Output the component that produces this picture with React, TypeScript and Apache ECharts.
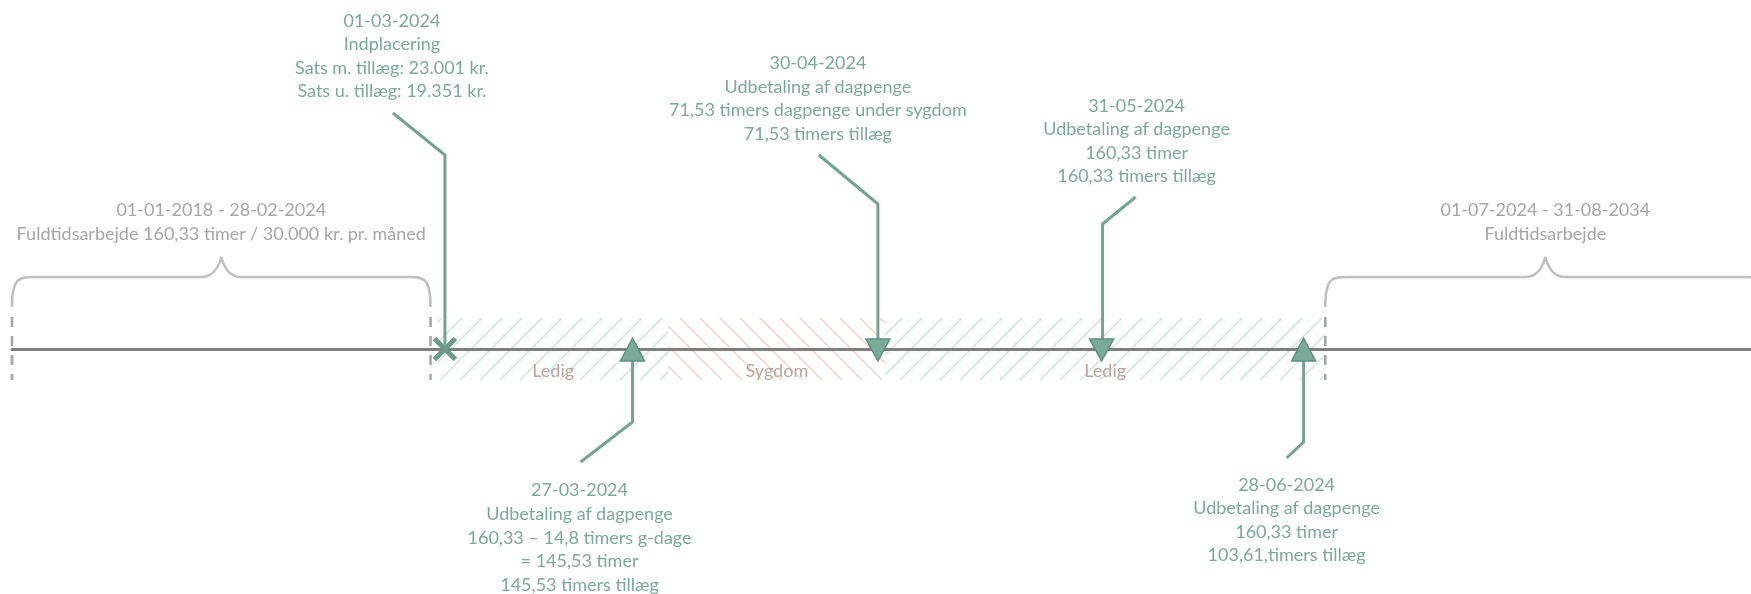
import React, { useEffect, useRef } from 'react';
import * as echarts from 'echarts';

// ---------- data ----------
const axisStart = '2024-01-01';
const axisEnd = '2024-08-29';

const periodStarts = ['2024-01-01', '2024-07-01'];
const periodEnds = ['2024-02-28', '2024-08-31'];
const periodTitles = ['01-01-2018 - 28-02-2024', '01-07-2024 - 31-08-2034'];
const periodTexts = ['Fuldtidsarbejde 160,33 timer / 30.000 kr. pr. måned', 'Fuldtidsarbejde'];

const statusStarts = ['2024-02-29', '2024-04-01', '2024-05-01'];
const statusEnds = ['2024-04-01', '2024-05-01', '2024-07-01'];
const statusNames = ['Ledig', 'Sygdom', 'Ledig'];

const eventDates = ['2024-03-01', '2024-03-27', '2024-04-30', '2024-05-31', '2024-06-28'];
const eventKinds = ['cross', 'up', 'down', 'down', 'up'];
const eventTexts = [
  ['01-03-2024', 'Indplacering', 'Sats m. tillæg: 23.001 kr.', 'Sats u. tillæg: 19.351 kr.'],
  ['27-03-2024', 'Udbetaling af dagpenge', '160,33 – 14,8 timers g-dage', '= 145,53 timer', '145,53 timers tillæg'],
  ['30-04-2024', 'Udbetaling af dagpenge', '71,53 timers dagpenge under sygdom', '71,53 timers tillæg'],
  ['31-05-2024', 'Udbetaling af dagpenge', '160,33 timer', '160,33 timers tillæg'],
  ['28-06-2024', 'Udbetaling af dagpenge', '160,33 timer', '103,61,timers tillæg'],
];

// ---------- layout (pixel offsets from marker on the baseline) ----------
const eventLayout = [
  { textDx: -53, textCy: -294, leader: [[-52, -236], [0, -194], [0, -4]] },
  { textDx: -53, textCy: 187.5, leader: [[-52, 113], [0, 73], [0, 12]] },
  { textDx: -60, textCy: -251.5, leader: [[-59, -194], [0, -145], [0, -10]] },
  { textDx: 35, textCy: -209, leader: [[34, -152], [1, -125], [1, -10]] },
  { textDx: -17, textCy: 170, leader: [[-17, 109], [0, 93], [0, 12]] },
];

const FONT = 'Lato, "Open Sans", sans-serif';
const FS = 18;
const LH = 23.6;
const GREEN_TEXT = '#7ba99a';
const LEADER = '#74a394';
const TRI_FILL = '#7aaa9a';
const TRI_STROKE = '#5f8f80';
const GRAY_TEXT = '#a6a6a6';
const BRACE = '#c0c0c0';
const DASH = '#a6a6a6';
const AXIS = '#7f7f7f';
const STATUS_TEXT = '#b9a59d';
const STRIPE: Record<string, string> = { Ledig: '#d2e5de', Sygdom: '#f4d5cf' };

export default function App() {
  const ref = useRef<HTMLDivElement>(null);
  useEffect(() => {
    document.body.style.margin = '0';
    const chart = echarts.init(ref.current!, null, { renderer: 'svg' });

    const option: any = {
      animation: false,
      grid: { left: 12, right: 0, top: 0, bottom: 0 },
      xAxis: {
        type: 'time',
        min: axisStart,
        max: axisEnd,
        z: 5,
        axisLine: { show: true, onZero: true, lineStyle: { color: AXIS, width: 3 } },
        axisTick: { show: false },
        axisLabel: { show: false },
        splitLine: { show: false },
      },
      yAxis: { type: 'value', min: -245, max: 349, show: false },
      series: [
        {
          type: 'custom',
          z: 1,
          clip: false,
          data: statusStarts.map((s, i) => [s, statusEnds[i]]),
          encode: { x: [0, 1] },
          renderItem: (params: any, api: any) => {
            const i = params.dataIndex;
            const p0 = api.coord([api.value(0), 0]);
            const p1 = api.coord([api.value(1), 0]);
            const L = p0[0];
            const R = p1[0];
            const base = p0[1];
            const top = base - 31;
            const bottom = base + 31;
            const h = bottom - top;
            const name = statusNames[i];
            const back = name === 'Sygdom';
            const children: any[] = [];
            for (let x0 = -200; x0 < 2000; x0 += 20) {
              const t0 = Math.max(0, L - x0);
              const t1 = Math.min(h, R - x0);
              if (t1 <= t0) continue;
              const pts = back
                ? [[x0 + t0, top + t0], [x0 + t1, top + t1]]
                : [[x0 + t0, bottom - t0], [x0 + t1, bottom - t1]];
              children.push({
                type: 'line',
                shape: { x1: pts[0][0], y1: pts[0][1], x2: pts[1][0], y2: pts[1][1] },
                style: { stroke: STRIPE[name], lineWidth: 1.6 },
              });
            }
            children.push({
              type: 'text',
              z2: 5,
              style: {
                text: name,
                x: (L + R) / 2,
                y: base + 21,
                align: 'center',
                verticalAlign: 'middle',
                fill: STATUS_TEXT,
                fontSize: FS,
                fontFamily: FONT,
              },
            });
            return { type: 'group', children };
          },
        },
        {
          type: 'custom',
          z: 3,
          clip: false,
          data: periodStarts.map((s, i) => [s, periodEnds[i]]),
          encode: { x: [0, 1] },
          renderItem: (params: any, api: any) => {
            const i = params.dataIndex;
            const p0 = api.coord([api.value(0), 0]);
            const p1 = api.coord([api.value(1), 0]);
            const x1 = p0[0];
            const x2 = p1[0];
            const base = p0[1];
            const yb = base - 42;
            const yt = base - 72;
            const yp = base - 92;
            const xm = (x1 + x2) / 2;
            const d =
              `M ${x1} ${yb} C ${x1} ${yt - 2} ${x1 + 8} ${yt} ${x1 + 28} ${yt} ` +
              `L ${xm - 20} ${yt} C ${xm - 10} ${yt} ${xm - 3} ${yt - 8} ${xm} ${yp} ` +
              `C ${xm + 3} ${yt - 8} ${xm + 10} ${yt} ${xm + 20} ${yt} ` +
              `L ${x2 - 28} ${yt} C ${x2 - 8} ${yt} ${x2} ${yt - 2} ${x2} ${yb}`;
            const children: any[] = [
              {
                type: 'path',
                shape: { pathData: d },
                style: { stroke: BRACE, lineWidth: 2.6, fill: null },
              },
              {
                type: 'line',
                shape: { x1: x1, y1: base - 32, x2: x1, y2: base + 31 },
                style: { stroke: DASH, lineWidth: 2.6, lineDash: [10, 9] },
              },
              {
                type: 'line',
                shape: { x1: x2, y1: base - 32, x2: x2, y2: base + 31 },
                style: { stroke: DASH, lineWidth: 2.6, lineDash: [10, 9] },
              },
              {
                type: 'text',
                style: {
                  text: periodTitles[i] + '\n' + periodTexts[i],
                  x: xm,
                  y: base - 128,
                  align: 'center',
                  verticalAlign: 'middle',
                  fill: GRAY_TEXT,
                  fontSize: FS,
                  lineHeight: LH,
                  fontFamily: FONT,
                },
              },
            ];
            return { type: 'group', children };
          },
        },
        {
          type: 'custom',
          z: 10,
          clip: false,
          data: eventDates.map((d) => [d, 0]),
          encode: { x: 0, y: 1 },
          renderItem: (params: any, api: any) => {
            const i = params.dataIndex;
            const [x, y] = api.coord([api.value(0), 0]);
            const lay = eventLayout[i];
            const kind = eventKinds[i];
            const children: any[] = [
              {
                type: 'polyline',
                shape: { points: lay.leader.map(([dx, dy]) => [x + dx, y + dy]) },
                style: { stroke: LEADER, lineWidth: 3, fill: null },
              },
            ];
            if (kind === 'cross') {
              const r = 10.5;
              children.push(
                { type: 'line', shape: { x1: x - r, y1: y - r, x2: x + r, y2: y + r }, style: { stroke: '#6b9b8b', lineWidth: 5 } },
                { type: 'line', shape: { x1: x - r, y1: y + r, x2: x + r, y2: y - r }, style: { stroke: '#6b9b8b', lineWidth: 5 } },
              );
            } else if (kind === 'up') {
              children.push({
                type: 'polygon',
                shape: { points: [[x, y - 11], [x + 12, y + 12], [x - 12, y + 12]] },
                style: { fill: TRI_FILL, stroke: TRI_STROKE, lineWidth: 1.5 },
              });
            } else {
              children.push({
                type: 'polygon',
                shape: { points: [[x - 12, y - 10], [x + 12, y - 10], [x, y + 12]] },
                style: { fill: TRI_FILL, stroke: TRI_STROKE, lineWidth: 1.5 },
              });
            }
            children.push({
              type: 'text',
              style: {
                text: eventTexts[i].join('\n'),
                x: x + lay.textDx,
                y: y + lay.textCy,
                align: 'center',
                verticalAlign: 'middle',
                fill: GREEN_TEXT,
                fontSize: FS,
                lineHeight: LH,
                fontFamily: FONT,
              },
            });
            return { type: 'group', children };
          },
        },
      ],
    };
    chart.setOption(option);
    return () => chart.dispose();
  }, []);
  return <div ref={ref} style={{ position: 'fixed', left: 0, top: 0, width: 1751, height: 594 }} />;
}
